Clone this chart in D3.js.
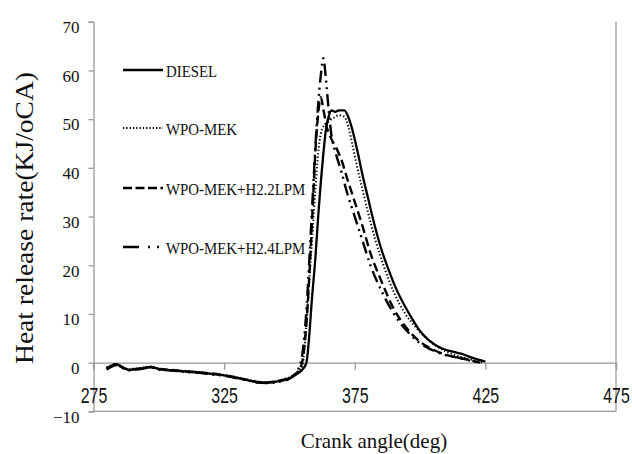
<!DOCTYPE html>
<html>
<head>
<meta charset="utf-8">
<script src="https://cdn.jsdelivr.net/npm/d3@7"></script>
<style>
  html, body { margin: 0; padding: 0; background: #fff; }
  svg { display: block; }
</style>
</head>
<body>
<svg id="chart" width="632" height="454"></svg>
<script>
// ---------------- data ----------------
const seriesNames = ["DIESEL", "WPO-MEK", "WPO-MEK+H2.2LPM", "WPO-MEK+H2.4LPM"];

const xTicks = [275, 325, 375, 425, 475];
const yTicks = [-10, 0, 10, 20, 30, 40, 50, 60, 70];

const dieselAngle = [280,282,283.5,285,287,289,291,293,295,297,300,305,310,315,320,325,330,335,338,341,344,347,350,352,354,355,356.5,357.5,358.6,360,361,362,363,364,365,366,367.5,369,371,372.5,374,376,378,380,382,385,388,391,394,397,400,403,406,410,413,416,419,422,425];
const dieselHRR   = [-1.3,-0.7,-0.3,-0.6,-1.2,-1.5,-1.3,-1.2,-1.0,-0.9,-1.3,-1.6,-1.8,-2.0,-2.3,-2.6,-3.1,-3.7,-4.0,-4.1,-4.0,-3.7,-3.2,-2.6,-1.9,-1.4,0,5,13,22,30,37,43,48,50.5,51.8,51.5,51.8,51.8,50.5,48,43.5,38.5,34,29.5,23.6,19,15,11.8,9,6.5,4.8,3.6,2.6,2.2,1.8,1.2,0.7,0.2];

const wpoAngle = [280,282,283.5,285,287,289,291,293,295,297,300,305,310,315,320,325,330,335,338,341,344,347,350,352,354,355,356.5,358,359,360,361,362,363,365,367,369,371,372.5,374,376,378,380,383,386,390,394,398,402,406,410,415,420,424];
const wpoHRR   = [-1.0,-0.5,-0.2,-0.5,-1.1,-1.3,-1.2,-1.1,-0.9,-0.8,-1.2,-1.5,-1.7,-1.9,-2.2,-2.5,-3.0,-3.6,-3.9,-4.0,-3.9,-3.5,-3.0,-2.4,-1.5,-0.5,8,20,28,36,43,47,48.5,49.5,50.3,50.8,50.5,48.5,45,40,35.5,31,25,20,14.4,10.3,7.5,5.2,3.5,2.3,1.3,0.6,0];

const h22Angle = [280,282,283.5,285,287,289,291,293,295,297,300,305,310,315,320,325,330,335,338,341,344,347,350,352,354,355,357,358,359,360,361,362,363,364,366,368,370,372,375,378,381,385,390,395,400,405,410,415,420,423];
const h22HRR   = [-1.1,-0.6,-0.4,-0.7,-1.2,-1.4,-1.3,-1.2,-1.0,-0.9,-1.3,-1.5,-1.8,-2.0,-2.2,-2.6,-3.1,-3.7,-4.0,-4.1,-3.9,-3.6,-3.1,-2.4,-1.3,0.5,12,22,33,44,51,54.5,52,49,46,44,41.5,38,33,28,22.5,17,11,7,4.3,2.7,1.6,1,0.4,0];

const h24Angle = [280,282,283.5,285,287,289,291,293,295,297,300,305,310,315,320,325,330,335,338,341,344,347,350,352,353.5,355,356.4,357.5,358.3,359.2,360,361,362,363,364,365,366,368,370,372,375,378,381,385,390,395,400,405,410,415,420,423];
const h24HRR   = [-1.4,-0.8,-0.5,-0.8,-1.3,-1.6,-1.4,-1.3,-1.1,-1.0,-1.4,-1.6,-1.9,-2.1,-2.4,-2.7,-3.2,-3.8,-4.1,-4.2,-4.1,-3.8,-3.3,-2.5,-1.2,2,10,20,28,37,45,53,59,62.5,58,52,47,42.5,39,35,30,25,20,15,10,6.5,4,2.5,1.5,1,0.3,0];

// ---------------- layout ----------------
const svg = d3.select("#chart");
const x = d3.scaleLinear().domain([275, 475]).range([93.5, 616]);
const y = d3.scaleLinear().domain([-10, 70]).range([411.4, 21.7]);
const axisColor = "#9a9a9a";
const serif = "'Liberation Serif', 'Times New Roman', serif";
const sans = "'Liberation Sans', Arial, sans-serif";

// frame: bottom line at -10 and right line at 475
svg.append("line").attr("x1", x(275)).attr("x2", x(475)).attr("y1", y(-10)).attr("y2", y(-10))
  .attr("stroke", axisColor).attr("stroke-width", 1.3);
svg.append("line").attr("x1", x(475)).attr("x2", x(475)).attr("y1", y(70)).attr("y2", y(-10))
  .attr("stroke", axisColor).attr("stroke-width", 1.3);

// y axis
const yAxis = d3.axisLeft(y).tickValues(yTicks).tickSize(5).tickFormat(d3.format("d"));
const gy = svg.append("g").attr("transform", `translate(${x(275)},0)`).call(yAxis);
gy.select(".domain").attr("stroke", axisColor).attr("stroke-width", 1.3);
gy.selectAll(".tick line").attr("stroke", axisColor).attr("stroke-width", 1.3);
gy.selectAll(".tick text")
  .attr("font-family", serif).attr("font-size", 17).attr("fill", "#111")
  .attr("x", -14).attr("dy", "0.72em").attr("y", -1.5);

// x axis at y = 0
const xAxis = d3.axisBottom(x).tickValues(xTicks).tickSize(7).tickFormat(d3.format("d"));
const gx = svg.append("g").attr("transform", `translate(0,${y(0)})`).call(xAxis);
gx.select(".domain").attr("stroke", axisColor).attr("stroke-width", 1.3);
gx.selectAll(".tick line").attr("stroke", axisColor).attr("stroke-width", 1.3);
gx.selectAll(".tick text").remove();
gx.selectAll(".tick").append("text")
  .attr("transform", "translate(0,40) scale(0.74,1)")
  .attr("text-anchor", "middle")
  .attr("font-family", sans).attr("font-size", 21.5).attr("fill", "#111")
  .text(d => d3.format("d")(d));

// axis titles
svg.append("text").attr("x", 374).attr("y", 448)
  .attr("text-anchor", "middle").attr("font-family", serif).attr("font-size", 21).attr("fill", "#111")
  .text("Crank angle(deg)");
svg.append("text").attr("transform", "translate(33,218) rotate(-90)")
  .attr("text-anchor", "middle").attr("font-family", serif).attr("font-size", 26).attr("fill", "#111")
  .attr("textLength", 292).attr("lengthAdjust", "spacingAndGlyphs")
  .text("Heat release rate(KJ/oCA)");

// ---------------- series ----------------
const styles = [
  { dash: null, width: 2.3 },
  { dash: "1.3,2.2", width: 2.0 },
  { dash: "9,4.5", width: 2.4 },
  { dash: "12,5,2,4.5,2,5", width: 2.4 }
];
const allSeries = [
  { a: dieselAngle, v: dieselHRR },
  { a: wpoAngle, v: wpoHRR },
  { a: h22Angle, v: h22HRR },
  { a: h24Angle, v: h24HRR }
];
const line = d3.line().x(d => x(d[0])).y(d => y(d[1])).curve(d3.curveMonotoneX);

allSeries.forEach((s, i) => {
  const pts = s.a.map((a, j) => [a, s.v[j]]);
  svg.append("path").datum(pts)
    .attr("d", line)
    .attr("fill", "none")
    .attr("stroke", "#000")
    .attr("stroke-width", styles[i].width)
    .attr("stroke-dasharray", styles[i].dash)
    .attr("stroke-linejoin", "round");
});

// ---------------- legend ----------------
const legendY = [70, 128, 188, 247];
seriesNames.forEach((name, i) => {
  svg.append("line")
    .attr("x1", 123).attr("x2", 163).attr("y1", legendY[i]).attr("y2", legendY[i])
    .attr("stroke", "#000").attr("stroke-width", i === 1 ? 1.8 : 2.6)
    .attr("stroke-dasharray", i === 0 ? null : (i === 1 ? "1.3,2" : (i === 2 ? "9,3.5" : "16,9,2,7,2,7")));
  svg.append("text")
    .attr("transform", `translate(166,${legendY[i] + 6.5}) scale(0.85,1)`)
    .attr("font-family", serif).attr("font-size", 17.5).attr("fill", "#111")
    .text(name);
});
</script>
</body>
</html>
